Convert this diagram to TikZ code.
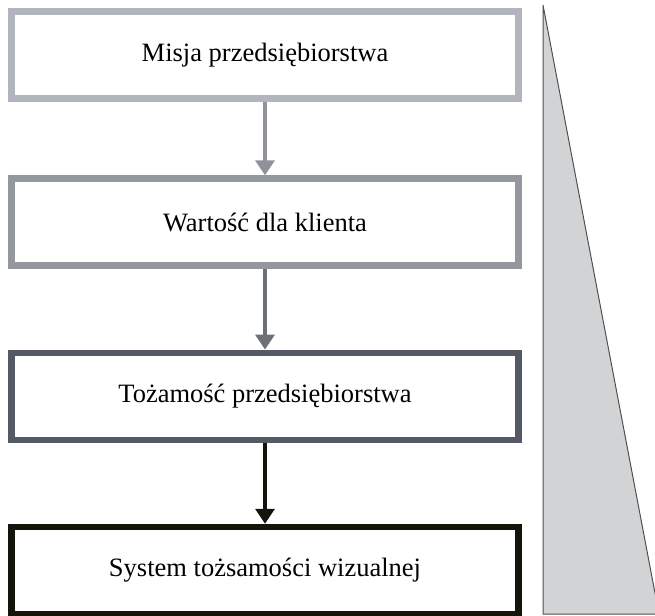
\documentclass[tikz,border=0pt]{standalone}
\usepackage{fontspec}
\setmainfont{Liberation Serif}
\usetikzlibrary{arrows.meta, positioning}

\definecolor{tone1}{RGB}{178,181,189}
\definecolor{tone2}{RGB}{148,151,158}
\definecolor{tone3}{RGB}{83,90,99}
\definecolor{tone4}{RGB}{20,20,10}
\definecolor{link1}{RGB}{143,146,153}
\definecolor{link2}{RGB}{108,113,120}
\definecolor{wedgefill}{RGB}{210,211,213}
\definecolor{wedgeline}{RGB}{80,80,80}

\begin{document}
\begin{tikzpicture}[
  x=1pt, y=-1pt,
  block/.style = {draw, line width=6.7pt, minimum height=87pt, minimum width=507pt, align=center, font=\fontsize{26.5}{32}\selectfont},
  arrow/.style = {line width=3.5pt, -{Triangle[width=19pt,length=15pt]}},
  node distance=80.5pt
]
  \useasboundingbox (0,0) rectangle (655,615);

  % Wedge on the right
  \begin{scope}
    \clip (0,0) rectangle (655,615);
    \filldraw[fill=wedgefill, draw=wedgeline, line width=1pt] (543,5) -- (543,614) -- (659,614) -- cycle;
  \end{scope}

  % Blocks
  \node[block, draw=tone1] (mission) at (265,55) {Misja przedsiębiorstwa};
  \node[block, draw=tone2, below=73.5pt of mission] (value) {Wartość dla klienta};
  \node[block, draw=tone3, below=of value] (identity) {Tożamość przedsiębiorstwa};
  \node[block, draw=tone4, below=of identity] (visual) {System tożsamości wizualnej};

  % Arrows
  \draw[arrow, link1] (mission) -- (value);
  \draw[arrow, link2] (value) -- (identity);
  \draw[arrow, tone4] (identity) -- (visual);

\end{tikzpicture}
\end{document}
